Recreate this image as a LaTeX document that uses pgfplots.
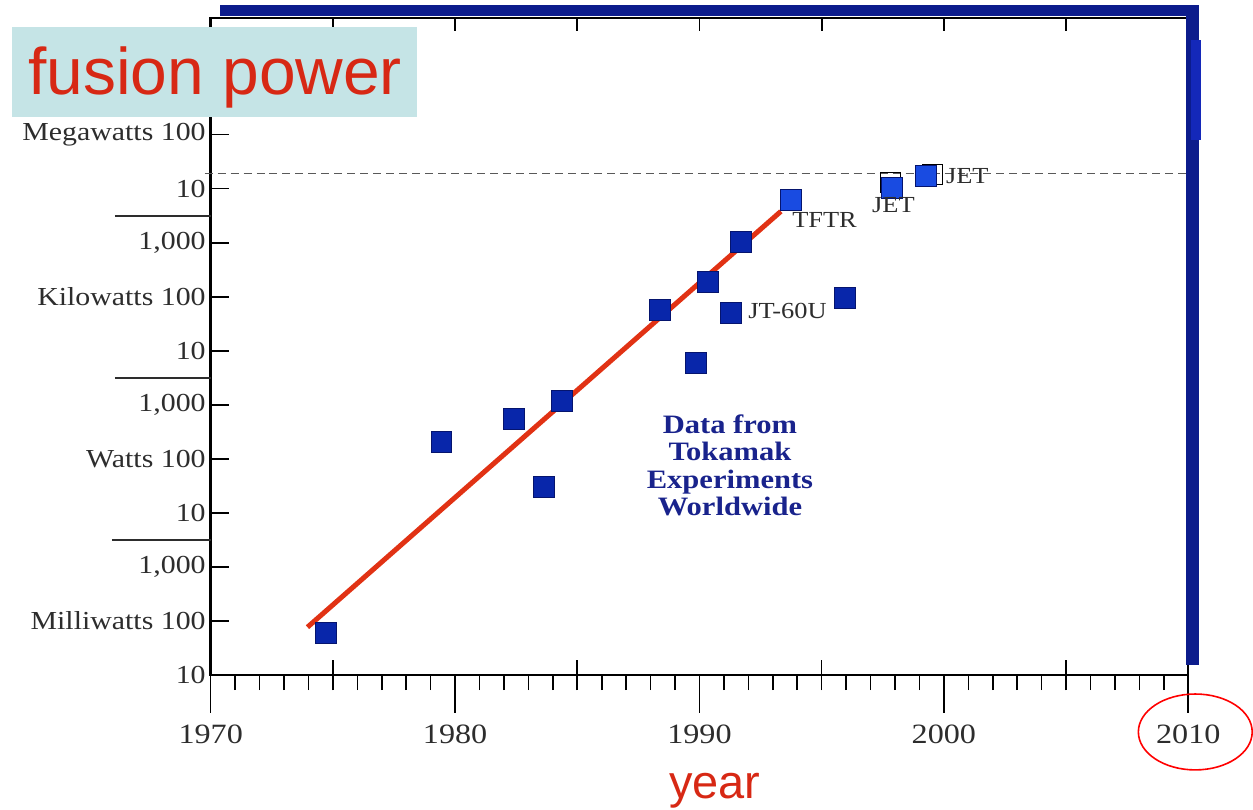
\documentclass[border=0pt]{standalone}
\usepackage{pgfplots}
\pgfplotsset{compat=1.18}
\usepackage{fontspec}
\setmainfont{Liberation Serif}[FakeStretch=1.15]
\newfontfamily\arialfont{Liberation Sans}
\definecolor{navyb}{RGB}{12,28,140}
\definecolor{navyc}{RGB}{20,40,185}
\definecolor{sqfill}{RGB}{8,38,170}
\definecolor{sqfill2}{RGB}{25,75,225}
\definecolor{sqdraw}{RGB}{5,20,110}
\definecolor{redline}{RGB}{225,50,20}
\definecolor{titlered}{RGB}{215,40,20}
\definecolor{boxcyan}{RGB}{197,228,230}
\definecolor{txtgray}{RGB}{45,45,45}
\definecolor{boldnavy}{RGB}{25,35,140}
\begin{document}
\begin{tikzpicture}
\begin{scope}[x=0.5pt,y=-0.5pt]
\useasboundingbox (0,0) rectangle (1253,811);
\end{scope}
\begin{axis}[
  at={(105.5pt,-338pt)}, anchor=south west,
  scale only axis, width=489.5pt, height=329pt,
  xmin=1970, xmax=2010, ymode=log, ymin=1e-2, ymax=1.44e10,
  clip=false,
  axis line style={line width=1.2pt, black},
  every tick/.style={black, line width=0.8pt},
  xtick={1970,1980,1990,2000,2010},
  xticklabels={1970,1980,1990,2000,2010},
  minor x tick num=9,
  tick align=outside,
  major tick length=19pt, minor tick length=7.5pt,
  xtick pos=bottom, ytick pos=left,
  extra x ticks={1975,1985,1995,2005},
  extra x tick labels={},
  extra x tick style={tick align=center, major tick length=15pt},
  ytick=\empty, yminorticks=false,
  extra y ticks={1e-2,1e-1,1,10,100,1000,1e4,1e5,1e6,1e7,1e8},
  extra y tick labels={10,Milliwatts 100,{1,000},10,Watts 100,{1,000},10,Kilowatts 100,{1,000},10,Megawatts 100},
  extra y tick style={tick align=inside, major tick length=9pt},
  x tick label style={font=\fontsize{14}{14}\selectfont, text=txtgray, yshift=-2.5pt},
  y tick label style={font=\fontsize{13}{13}\selectfont, text=txtgray, xshift=1pt},
]
\addplot[redline, line width=2.5pt] coordinates {(1973.96,0.0769) (1993.33,3.8e6)};
\addplot[black!65, dashed, line width=0.6pt, dash pattern=on 4pt off 2.5pt] coordinates {(1969.75,1.91e7) (2010,1.91e7)};
\addplot[only marks, mark=square, mark size=5pt, mark options={draw=black, line width=0.7pt}] coordinates {(1997.82,1.30e7) (1999.54,1.83e7)};
\addplot[only marks, mark=square*, mark size=5.25pt, mark options={fill=sqfill, draw=sqdraw, line width=0.4pt}] coordinates {
(1974.70,0.0596) (1979.44,207) (1982.42,552) (1983.65,30.7) (1984.38,1186)
(1988.39,56600) (1989.86,5960) (1990.35,186000) (1991.29,49800) (1991.70,1.016e6)
(1995.94,94200)};
\addplot[only marks, mark=square*, mark size=5.25pt, mark options={fill=sqfill2, draw=sqdraw, line width=0.4pt}] coordinates {
(1993.74,6.32e6) (1997.87,1.05e7) (1999.25,1.75e7)};
\end{axis}
\begin{scope}[x=0.5pt,y=-0.5pt]
% top axis line and ticks
\draw[black, line width=1.2pt] (211,18) -- (1190,18);
\draw[black, line width=1.2pt] (1190,18) -- (1190,676);
\foreach \xx in {333.4,455.75,578.1,700.5,822.9,945.25,1067.6}
  \draw[black, line width=0.8pt] (\xx,18) -- (\xx,31);
% unit separators
\draw[txtgray, line width=1pt] (115,216) -- (211,216);
\draw[txtgray, line width=1pt] (115,379) -- (211,379);
\draw[txtgray, line width=1pt] (112,541) -- (211,541);
% navy overlays
\fill[navyb] (220,5) rectangle (1201,16);
\fill[navyb] (1188,5) rectangle (1201,666);
\fill[navyc] (1193,40) rectangle (1203,140);
% labels
\node[anchor=west, text=txtgray, font=\fontsize{11.5}{11.5}\selectfont, inner sep=0pt] at (793,220) {TFTR};
\node[anchor=west, text=txtgray, font=\fontsize{11.5}{11.5}\selectfont, inner sep=0pt] at (873,205) {JET};
\node[anchor=west, text=txtgray, font=\fontsize{11.5}{11.5}\selectfont, inner sep=0pt] at (947,176) {JET};
\node[anchor=west, text=txtgray, font=\fontsize{11.5}{11.5}\selectfont, inner sep=0pt] at (749,311) {JT-60U};
\node[align=center, text=boldnavy, font=\fontsize{13.3}{13.75}\selectfont\bfseries, inner sep=0pt] at (731,466) {Data from\\Tokamak\\Experiments\\Worldwide};
% title box
\fill[boxcyan] (12,27) rectangle (418,117);
\node[anchor=base west, text=titlered, font=\arialfont\fontsize{33}{33}\selectfont, inner sep=0pt] at (28,95) {fusion power};
\node[anchor=base, text=titlered, font=\arialfont\fontsize{23.5}{23.5}\selectfont, inner sep=0pt] at (716,800) {year};
\draw[red, line width=0.8pt] (1197,733) ellipse [x radius=28.5pt, y radius=19pt];
\end{scope}
\end{tikzpicture}
\end{document}
